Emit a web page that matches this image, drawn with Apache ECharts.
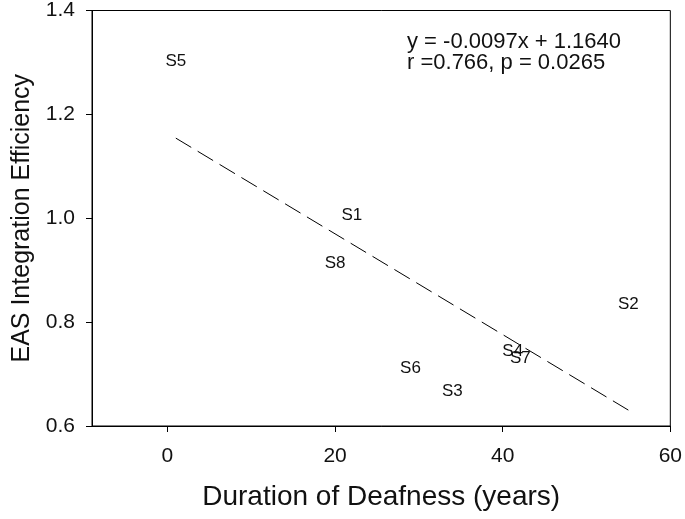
<!DOCTYPE html>
<html>
<head>
<meta charset="utf-8">
<script src="https://cdn.jsdelivr.net/npm/echarts@6/dist/echarts.min.js"></script>
<style>html,body{margin:0;padding:0;background:#fff}#c{width:685px;height:519px}</style>
</head>
<body>
<div id="c"></div>
<script>
var subjects = ['S1','S2','S3','S4','S5','S6','S7','S8'];
var duration = [22, 55, 34, 41.2, 1, 29, 42.1, 20];
var efficiency = [1.010, 0.838, 0.671, 0.748, 1.306, 0.715, 0.735, 0.917];
var regSlope = -0.0097;
var regIntercept = 1.1640;
var regXRange = [1, 55];
var xTicks = [0, 20, 40, 60];
var eqLines = ['y = -0.0097x + 1.1640', 'r =0.766, p = 0.0265'];

var pts = subjects.map(function(s, i){ return {name: s, value: [duration[i], efficiency[i]]}; });
var reg = regXRange.map(function(x){ return [x, regSlope * x + regIntercept]; });

var font = 'Liberation Sans, Arial, sans-serif';
var chart = echarts.init(document.getElementById('c'), null, {renderer: 'canvas'});
chart.setOption({
  animation: false,
  backgroundColor: '#fff',
  grid: {left: 92, right: 14, top: 10, bottom: 93, show: true, borderColor: '#000', borderWidth: 1, backgroundColor: 'transparent'},
  xAxis: {
    type: 'value', min: -9, max: 60,
    name: 'Duration of Deafness (years)', nameLocation: 'middle', nameGap: 57,
    nameTextStyle: {fontFamily: font, fontSize: 28, color: '#111'},
    axisLine: {show: true, onZero: false, lineStyle: {color: '#000', width: 1}},
    axisTick: {show: true, length: 6, inside: false, customValues: xTicks, lineStyle: {color: '#000'}},
    axisLabel: {customValues: xTicks, margin: 20, fontFamily: font, fontSize: 21, color: '#111'},
    splitLine: {show: false}
  },
  yAxis: {
    type: 'value', min: 0.6, max: 1.4, interval: 0.2,
    name: 'EAS Integration Efficiency', nameLocation: 'middle', nameGap: 52,
    nameTextStyle: {fontFamily: font, fontSize: 25, color: '#111'},
    axisLine: {show: true, onZero: false, lineStyle: {color: '#000', width: 1}},
    axisTick: {show: true, length: 6, lineStyle: {color: '#000'}},
    axisLabel: {margin: 17, fontFamily: font, fontSize: 21, color: '#111', formatter: function(v){ return v.toFixed(1); }},
    splitLine: {show: false}
  },
  graphic: [{
    type: 'text', left: 407, top: 31,
    style: {text: eqLines.join('\n'), font: '22px ' + font, fill: '#111', lineHeight: 21}
  }],
  series: [{
    type: 'line', data: reg, symbol: 'none',
    lineStyle: {color: '#000', width: 1, type: [18, 7.5]}
  }, {
    type: 'scatter', data: pts, symbolSize: 0,
    itemStyle: {color: '#111'},
    label: {show: true, position: 'inside', offset: [0, 2], formatter: '{b}', fontFamily: font, fontSize: 17, color: '#111', textBorderWidth: 0, opacity: 1}
  }]
});
</script>
</body>
</html>
